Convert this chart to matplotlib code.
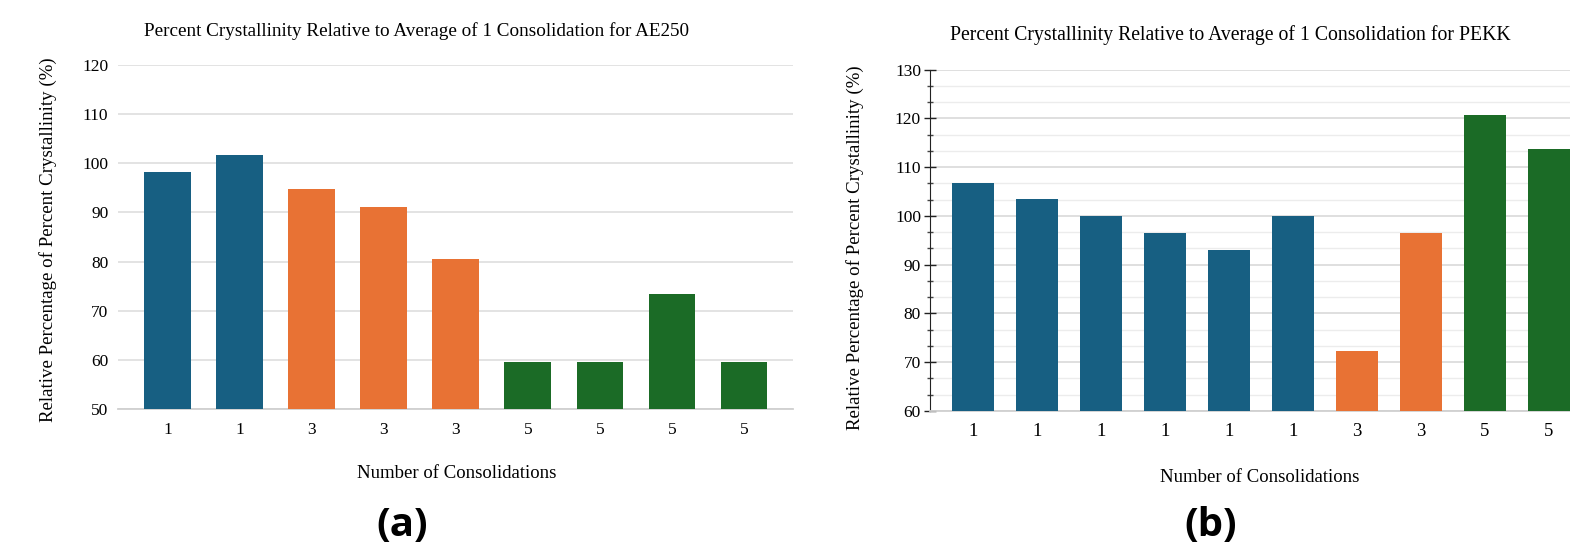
import numpy as np
import matplotlib.pyplot as plt
from matplotlib.ticker import MultipleLocator

# AE250: relative crystallinity per sample
ae250_labels = ['1', '1', '3', '3', '3', '5', '5', '5', '5']
ae250_values = [98.2, 101.7, 94.7, 91.1, 80.6, 59.6, 59.6, 73.5, 59.6]

# PEKK: relative crystallinity per sample
pekk_labels = ['1', '1', '1', '1', '1', '1', '3', '3', '5', '5']
pekk_values = [106.8, 103.5, 100.0, 96.5, 93.1, 100.0, 72.4, 96.5, 120.7, 113.8]

colour_for = {'1': '#175f82', '3': '#e87234', '5': '#1b6b26'}

W, H = 1570, 549
serif = 'Liberation Serif'


def box(x0, y0, x1, y1):
    # pixel box (top-left origin) -> figure fraction rect
    return [x0 / W, (H - y1) / H, (x1 - x0) / W, (y1 - y0) / H]


def at(x, y):
    return x / W, 1 - y / H


fig = plt.figure(figsize=(W / 100, H / 100), dpi=100)

# ---- (a) AE250 ----
ax1 = fig.add_axes(box(118, 65, 793, 409))
x1 = np.arange(len(ae250_values))
ax1.bar(x1, np.array(ae250_values) - 50, bottom=50, width=0.65,
        color=[colour_for[l] for l in ae250_labels], zorder=3)
ax1.set_ylim(50, 120)
ax1.set_xlim(-0.69, 8.68)
ax1.set_yticks(range(50, 121, 10))
ax1.set_xticks(x1)
ax1.set_xticklabels(ae250_labels)
ax1.grid(axis='y', color='#e0e0e0', linewidth=1.3, zorder=0)
for s in ['top', 'right', 'left']:
    ax1.spines[s].set_visible(False)
ax1.spines['bottom'].set_color('#d0d0d0')
ax1.spines['bottom'].set_linewidth(1.3)
ax1.tick_params(length=0, labelsize=12.5, pad=7)
ax1.tick_params(axis='x', pad=9)
for t in ax1.get_xticklabels() + ax1.get_yticklabels():
    t.set_family(serif)

# ---- (b) PEKK ----
ax2 = fig.add_axes(box(930, 69.5, 1570, 411))
x2 = np.arange(len(pekk_values))
ax2.bar(x2, np.array(pekk_values) - 60, bottom=60, width=0.66,
        color=[colour_for[l] for l in pekk_labels], zorder=3)
ax2.set_ylim(60, 130)
ax2.set_xlim(-0.67, 9.33)
ax2.yaxis.set_major_locator(MultipleLocator(10))
ax2.yaxis.set_minor_locator(MultipleLocator(10 / 3))
ax2.set_xticks(x2)
ax2.set_xticklabels(pekk_labels)
ax2.grid(axis='y', which='major', color='#dcdcdc', linewidth=1.3, zorder=0)
ax2.grid(axis='y', which='minor', color='#ececec', linewidth=1.0, zorder=0)
for s in ['top', 'right']:
    ax2.spines[s].set_visible(False)
ax2.spines['bottom'].set_color('#d0d0d0')
ax2.spines['bottom'].set_linewidth(1.3)
ax2.spines['left'].set_color('#222222')
ax2.tick_params(axis='y', which='major', direction='inout', length=9,
                width=1.0, color='#222222', labelsize=12.5, pad=2)
ax2.tick_params(axis='y', which='minor', direction='inout', length=4,
                width=1.0, color='#444444')
ax2.tick_params(axis='x', length=0, labelsize=13.5, pad=9)
for t in ax2.get_xticklabels() + ax2.get_yticklabels():
    t.set_family(serif)

# titles, axis labels, panel letters
fig.text(*at(416, 31), 'Percent Crystallinity Relative to Average of 1 Consolidation for AE250',
         family=serif, fontsize=13.8, ha='center', va='center')
fig.text(*at(1230, 35), 'Percent Crystallinity Relative to Average of 1 Consolidation for PEKK',
         family=serif, fontsize=14.2, ha='center', va='center')

fig.text(*at(457, 473), 'Number of Consolidations', family=serif,
         fontsize=13.5, ha='center', va='center')
fig.text(*at(1260, 477), 'Number of Consolidations', family=serif,
         fontsize=13.5, ha='center', va='center')

fig.text(*at(48, 240), 'Relative Percentage of Percent Crystallinity (%)', family=serif,
         fontsize=13.6, rotation=90, ha='center', va='center')
fig.text(*at(855, 248), 'Relative Percentage of Percent Crystallinity (%)', family=serif,
         fontsize=13.6, rotation=90, ha='center', va='center')

fig.text(*at(402, 526), '(a)', family='Open Sans', fontweight='bold',
         fontsize=29, ha='center', va='center')
fig.text(*at(1211, 526), '(b)', family='Open Sans', fontweight='bold',
         fontsize=29, ha='center', va='center')

fig.savefig('out.png', dpi=100)
